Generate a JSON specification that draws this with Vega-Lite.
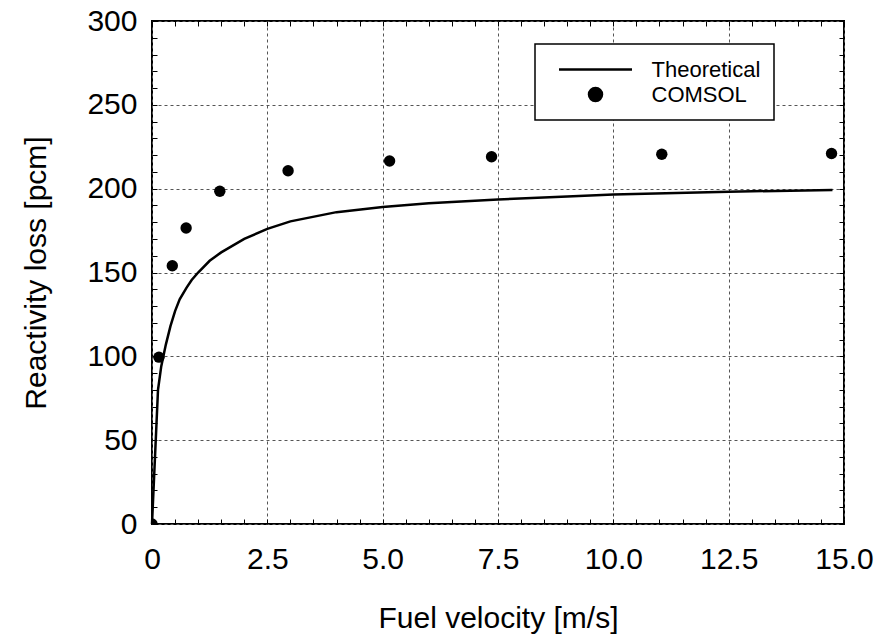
{
  "$schema": "https://vega.github.io/schema/vega-lite/v6.json",
  "width": 692,
  "height": 503,
  "autosize": {"type": "none"},
  "padding": {"left": 152, "top": 21, "right": 42, "bottom": 117},
  "background": "white",
  "config": {
    "font": "Liberation Sans",
    "view": {"stroke": "black", "strokeWidth": 2},
    "axis": {
      "domain": false,
      "tickSize": -5,
      "tickColor": "black",
      "tickWidth": 1,
      "labelFont": "Liberation Sans",
      "labelFontSize": 30,
      "labelColor": "black",
      "labelOverlap": false,
      "labelFlush": false,
      "labelBound": false,
      "titleFont": "Liberation Sans",
      "titleFontSize": 30,
      "titleFontWeight": "normal",
      "titleColor": "black",
      "gridColor": "#555555",
      "gridDash": [3, 3],
      "gridWidth": 1
    }
  },
  "datasets": {
    "theory": [
      {"v": 0, "r": 0, "series": "Theoretical"},
      {"v": 0.13, "r": 80, "series": "Theoretical"},
      {"v": 0.2, "r": 94, "series": "Theoretical"},
      {"v": 0.3, "r": 107, "series": "Theoretical"},
      {"v": 0.4, "r": 118, "series": "Theoretical"},
      {"v": 0.5, "r": 127, "series": "Theoretical"},
      {"v": 0.6, "r": 134, "series": "Theoretical"},
      {"v": 0.75, "r": 141, "series": "Theoretical"},
      {"v": 0.86, "r": 145.5, "series": "Theoretical"},
      {"v": 1.0, "r": 150, "series": "Theoretical"},
      {"v": 1.25, "r": 157, "series": "Theoretical"},
      {"v": 1.5, "r": 162, "series": "Theoretical"},
      {"v": 2.0, "r": 170, "series": "Theoretical"},
      {"v": 2.5, "r": 176, "series": "Theoretical"},
      {"v": 3.0, "r": 180.5, "series": "Theoretical"},
      {"v": 4.0, "r": 186, "series": "Theoretical"},
      {"v": 5.0, "r": 189, "series": "Theoretical"},
      {"v": 6.0, "r": 191.3, "series": "Theoretical"},
      {"v": 7.5, "r": 193.6, "series": "Theoretical"},
      {"v": 9.0, "r": 195.3, "series": "Theoretical"},
      {"v": 10.0, "r": 196.5, "series": "Theoretical"},
      {"v": 12.5, "r": 198.2, "series": "Theoretical"},
      {"v": 14.75, "r": 199.2, "series": "Theoretical"}
    ],
    "comsol": [
      {"v": 0, "r": 0, "series": "COMSOL"},
      {"v": 0.15, "r": 99.5, "series": "COMSOL"},
      {"v": 0.44, "r": 154, "series": "COMSOL"},
      {"v": 0.74, "r": 176.5, "series": "COMSOL"},
      {"v": 1.47, "r": 198.5, "series": "COMSOL"},
      {"v": 2.95, "r": 210.7, "series": "COMSOL"},
      {"v": 5.15, "r": 216.5, "series": "COMSOL"},
      {"v": 7.36, "r": 219, "series": "COMSOL"},
      {"v": 11.05, "r": 220.5, "series": "COMSOL"},
      {"v": 14.73, "r": 221, "series": "COMSOL"}
    ]
  },
  "layer": [
    {
      "data": {"name": "theory"},
      "mark": {"type": "line", "color": "black", "strokeWidth": 2.5},
      "encoding": {
        "x": {
          "field": "v", "type": "quantitative",
          "scale": {"domain": [0, 15], "nice": false, "zero": false},
          "axis": {
            "orient": "bottom",
            "title": "Fuel velocity [m/s]",
            "titlePadding": 29,
            "labelPadding": 25,
            "values": [0,0.5,1,1.5,2,2.5,3,3.5,4,4.5,5,5.5,6,6.5,7,7.5,8,8.5,9,9.5,10,10.5,11,11.5,12,12.5,13,13.5,14,14.5,15],
            "labelExpr": "datum.value === 0 ? '0' : (datum.value % 2.5 === 0 ? format(datum.value, '.1f') : '')",
            "grid": true,
            "gridOpacity": {"condition": {"test": "datum.value % 2.5 === 0", "value": 1}, "value": 0}
          }
        },
        "y": {
          "field": "r", "type": "quantitative",
          "scale": {"domain": [0, 300], "nice": false},
          "axis": {
            "orient": "left",
            "title": "Reactivity loss [pcm]",
            "titlePadding": 35,
            "labelPadding": 20,
            "values": [0,10,20,30,40,50,60,70,80,90,100,110,120,130,140,150,160,170,180,190,200,210,220,230,240,250,260,270,280,290,300],
            "labelExpr": "datum.value % 50 === 0 ? datum.label : ''",
            "grid": true,
            "gridOpacity": {"condition": {"test": "datum.value % 50 === 0", "value": 1}, "value": 0}
          }
        },
        "color": {
          "field": "series", "type": "nominal",
          "scale": {"domain": ["Theoretical", "COMSOL"], "range": ["black", "black"]},
          "legend": {
            "orient": "none",
            "legendX": 383,
            "legendY": 23,
            "title": null,
            "padding": 13,
            "strokeColor": "black",
            "fillColor": "white",
            "cornerRadius": 0,
            "labelFont": "Liberation Sans",
            "labelFontSize": 22,
            "labelColor": "black",
            "labelOffset": 18,
            "symbolOffset": 9.5,
            "symbolSize": 5329,
            "symbolStrokeWidth": 2.5,
            "clipHeight": 25,
            "rowPadding": 0,
            "encode": {
              "legend": {"update": {"strokeWidth": {"value": 1.5}}},
              "symbols": {
                "update": {
                  "shape": {"signal": "datum.value === 'Theoretical' ? 'M-1,0H1' : 'M-0.178,0A0.178,0.178 0 1,0 0.178,0A0.178,0.178 0 1,0 -0.178,0Z'"},
                  "fill": {"signal": "datum.value === 'Theoretical' ? 'transparent' : 'black'"},
                  "stroke": {"signal": "datum.value === 'Theoretical' ? 'black' : 'transparent'"},
                  "opacity": {"value": 1}
                }
              }
            }
          }
        }
      }
    },
    {
      "data": {"name": "comsol"},
      "mark": {"type": "point", "filled": true, "size": 130, "opacity": 1, "clip": true},
      "encoding": {
        "x": {
          "field": "v", "type": "quantitative",
          "axis": {
            "orient": "top",
            "title": null,
            "labels": false,
            "grid": false,
            "values": [0,0.5,1,1.5,2,2.5,3,3.5,4,4.5,5,5.5,6,6.5,7,7.5,8,8.5,9,9.5,10,10.5,11,11.5,12,12.5,13,13.5,14,14.5,15]
          }
        },
        "y": {
          "field": "r", "type": "quantitative",
          "axis": {
            "orient": "right",
            "title": null,
            "labels": false,
            "grid": false,
            "values": [0,10,20,30,40,50,60,70,80,90,100,110,120,130,140,150,160,170,180,190,200,210,220,230,240,250,260,270,280,290,300]
          }
        },
        "color": {"field": "series", "type": "nominal"}
      }
    }
  ],
  "resolve": {"axis": {"x": "independent", "y": "independent"}}
}
